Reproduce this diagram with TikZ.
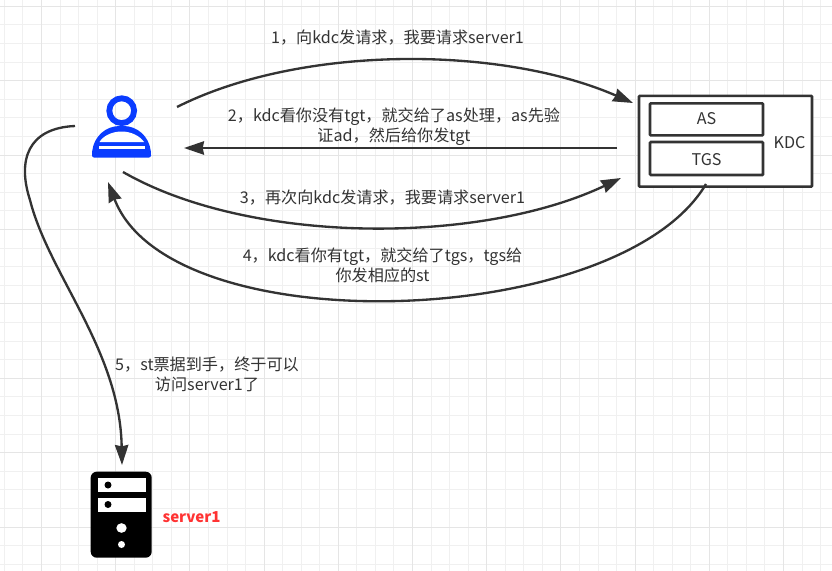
\documentclass[tikz,border=0pt]{standalone}
\usepackage{fontspec}
\setmainfont{Noto Sans CJK SC}
\usetikzlibrary{arrows.meta}
\definecolor{ink}{HTML}{333333}
\definecolor{blueman}{HTML}{0A3CFF}
\definecolor{redtext}{HTML}{FF3333}
\tikzset{
  x=0.75pt,y=-0.75pt,
  minorgrid/.style={draw=black!6,line width=0.75pt},
  majorgrid/.style={draw=black!10,line width=0.75pt},
  conn/.style={draw=ink,line width=1.75pt,-{Stealth[length=15pt,width=10pt,inset=1pt]}},
  boxk/.style={draw=ink,line width=1.9pt,fill=white,inner sep=0pt,rounded corners=0.6pt},
  lbl/.style={text=ink,font=\fontsize{12.1pt}{14.6pt}\selectfont,align=center,inner sep=0pt},
}
\begin{document}
\begin{tikzpicture}
\useasboundingbox (0,0) rectangle (832,571);
\fill[white] (0,0) rectangle (832,571);
\foreach \i in {-6,...,39}{
  \pgfmathsetmacro{\gx}{115.7+18.55*\i}
  \draw[minorgrid] (\gx,0) -- (\gx,571);
}
\foreach \i in {-8,...,23}{
  \pgfmathsetmacro{\gy}{155+18.6*\i}
  \draw[minorgrid] (0,\gy) -- (832,\gy);
}
\foreach \i in {-1,...,9}{
  \pgfmathsetmacro{\gx}{115.7+74.2*\i}
  \draw[majorgrid] (\gx,0) -- (\gx,571);
}
\foreach \i in {-2,...,5}{
  \pgfmathsetmacro{\gy}{155+74.4*\i}
  \draw[majorgrid] (0,\gy) -- (832,\gy);
}
% KDC
\node[boxk,minimum width=129.75pt,minimum height=68pt,anchor=center] (kdc) at (725.5,141.3) {};
\node[boxk,minimum width=84.75pt,minimum height=24pt] (as) at (706.5,119.3) {};
\node[boxk,minimum width=84.75pt,minimum height=24.75pt] (tgs) at (706.5,158.5) {};
\node[lbl] (astext) at (706.5,119) {AS};
\node[lbl] (tgstext) at (706.5,160) {TGS};
\node[lbl] (kdctext) at (789.5,143) {KDC};
% person
\node[circle,draw=blueman,line width=4.4pt,minimum size=18.6pt,inner sep=0pt] (man) at (121.7,110.7) {};
\fill[blueman,rounded corners=1.5pt] (92,157.5) -- (92,153) .. controls (94,136) and (106,126) .. (121.7,126) .. controls (137,126) and (149,136) .. (151,153) -- (151,157.5) -- cycle;
\fill[white] (99.5,142) .. controls (103,136) and (112,131.5) .. (121.7,131.5) .. controls (131,131.5) and (140,136) .. (144,142) -- cycle;
\fill[white] (99,146) rectangle (145,149);
% server
\node[fill=black,rounded corners=4.5pt,minimum width=45.75pt,minimum height=64.5pt,inner sep=0pt] (srv) at (121.2,514.7) {};
\fill[white] (97.7,478) rectangle (145.7,491.7);
\fill[white] (97.7,498.3) rectangle (145.7,511.7);
\fill[black] (108,485) circle[radius=3.5];
\fill[black] (108,504.5) circle[radius=3.5];
\fill[white] (121.5,528) ellipse[x radius=5.2,y radius=4.8];
\fill[white] (121.5,544.5) circle[radius=3.5];
\node[text=redtext,font=\fontsize{11.3pt}{13pt}\selectfont\bfseries,inner sep=0pt] (srvtext) at (191.5,517) {server1};
% endpoints
\coordinate (p1) at (177,107);
\coordinate (k1) at (633,103);
\coordinate (k2) at (617,148);
\coordinate (p2) at (184,148);
\coordinate (p3) at (123,172);
\coordinate (k3) at (621,178);
\coordinate (k4) at (706,184);
\coordinate (p4) at (108,182);
\coordinate (p5) at (75,126);
\coordinate (m5) at (30,200);
\coordinate (s5) at (122,465);
% connectors
\draw[conn] (p1) .. controls (300,45) and (500,45) .. (k1);
\draw[conn] (k2) -- (p2);
\draw[conn] (p3) .. controls (250,245) and (480,245) .. (k3);
\draw[conn] (k4) .. controls (620,330) and (170,345) .. (p4);
\draw[conn] (p5) .. controls (28,128) and (17,160) .. (m5) .. controls (49,275) and (120,350) .. (s5);
% labels
\node[lbl] (l1) at (397.5,38) {1，向kdc发请求，我要请求server1};
\node[lbl] (l2) at (394,126.5) {2，kdc看你没有tgt，就交给了as处理，as先验\\证ad，然后给你发tgt};
\node[lbl] (l3) at (382.5,198) {3，再次向kdc发请求，我要请求server1};
\node[lbl] (l4) at (382.5,265.5) {4，kdc看你有tgt，就交给了tgs，tgs给\\你发相应的st};
\node[lbl] (l5) at (207,374.5) {5，st票据到手，终于可以\\访问server1了};
\end{tikzpicture}
\end{document}
